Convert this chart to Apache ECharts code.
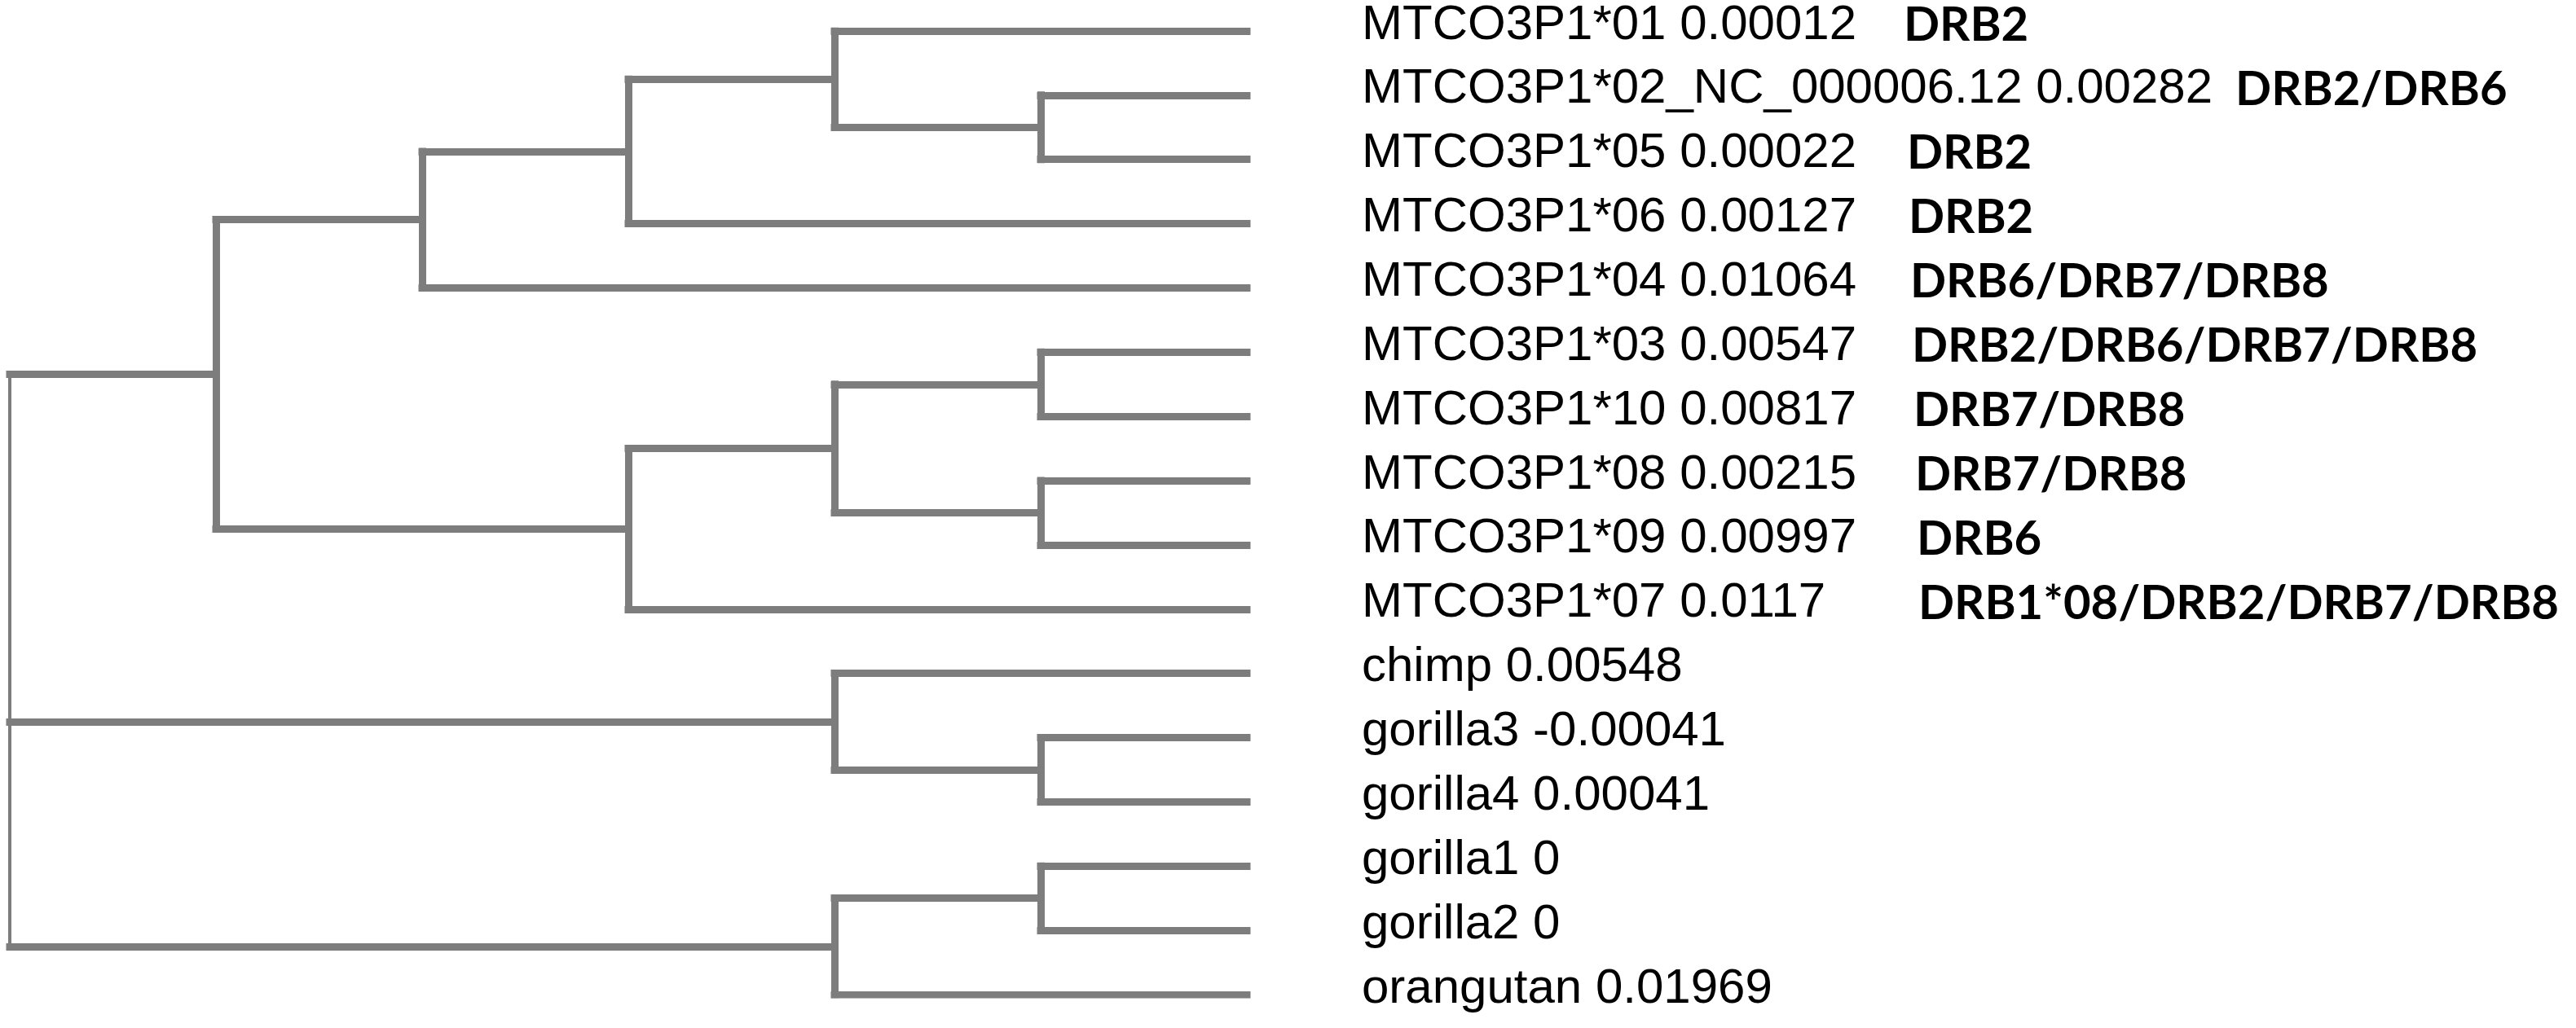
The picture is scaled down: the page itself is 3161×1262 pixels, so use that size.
<!DOCTYPE html>
<html>
<head>
<meta charset="utf-8">
<title>MTCO3P1 tree</title>
<style>
html, body { margin: 0; padding: 0; background: #fff; }
#main { width: 3161px; height: 1262px; }
</style>
</head>
<body>
<div id="main"></div>
<script src="https://cdn.jsdelivr.net/npm/echarts@6.0.0/dist/echarts.min.js"></script>
<script>
// leaves, top to bottom
var leafNames = ['MTCO3P1*01', 'MTCO3P1*02_NC_000006.12', 'MTCO3P1*05', 'MTCO3P1*06', 'MTCO3P1*04',
  'MTCO3P1*03', 'MTCO3P1*10', 'MTCO3P1*08', 'MTCO3P1*09', 'MTCO3P1*07',
  'chimp', 'gorilla3', 'gorilla4', 'gorilla1', 'gorilla2', 'orangutan'];
var leafValues = ['0.00012', '0.00282', '0.00022', '0.00127', '0.01064',
  '0.00547', '0.00817', '0.00215', '0.00997', '0.0117',
  '0.00548', '-0.00041', '0.00041', '0', '0', '0.01969'];
var drbLabels = ['DRB2', 'DRB2/DRB6', 'DRB2', 'DRB2', 'DRB6/DRB7/DRB8',
  'DRB2/DRB6/DRB7/DRB8', 'DRB7/DRB8', 'DRB7/DRB8', 'DRB6', 'DRB1*08/DRB2/DRB7/DRB8',
  '', '', '', '', '', ''];
// topology, nested lists of leaf indexes
var tree = [
  [[[[0, [1, 2]], 3], 4], [[[5, 6], [7, 8]], 9]],
  [10, [11, 12]],
  [[13, 14], 15]
];

function height(n) {
  return typeof n === 'number' ? 0 : 1 + Math.max.apply(null, n.map(height));
}
function posY(n) {
  return typeof n === 'number' ? n : (posY(n[0]) + posY(n[n.length - 1])) / 2;
}
var H = height(tree);
function posX(n) { return H - height(n); }

// cladogram: every leaf ends at the same depth
var branches = [], rootBranch = [];
function walk(n, isRoot) {
  if (typeof n === 'number') return;
  var x = posX(n);
  (isRoot ? rootBranch : branches).push({ coords: [[x, posY(n[0])], [x, posY(n[n.length - 1])]] });
  n.forEach(function (c) {
    branches.push({ coords: [[x, posY(c)], [posX(c), posY(c)]] });
    walk(c, false);
  });
}
walk(tree, true);

var ctx = document.createElement('canvas').getContext('2d');
ctx.font = '60px "Liberation Sans"';

var leafPoints = leafNames.map(function (nm, i) { return [H, i]; });

var myChart = echarts.init(document.getElementById('main'));
myChart.setOption({
  backgroundColor: '#fff',
  animation: false,
  grid: { left: 12, right: 1631, top: 38, bottom: 41, outerBoundsMode: 'none' },
  xAxis: { type: 'value', min: 0, max: H, show: false },
  yAxis: { type: 'value', min: 0, max: leafNames.length - 1, inverse: true, show: false },
  series: [
    {
      type: 'lines',
      coordinateSystem: 'cartesian2d',
      silent: true,
      lineStyle: { color: '#7d7d7d', width: 9, opacity: 1, cap: 'square' },
      data: branches
    },
    {
      type: 'lines',
      coordinateSystem: 'cartesian2d',
      silent: true,
      lineStyle: { color: '#7d7d7d', width: 4, opacity: 1 },
      data: rootBranch
    },
    {
      type: 'scatter',
      silent: true,
      symbolSize: 0,
      itemStyle: { opacity: 1 },
      data: leafPoints,
      label: {
        show: true,
        opacity: 1,
        position: 'right',
        distance: 141,
        offset: [0, -7],
        formatter: function (p) {
          var i = p.dataIndex;
          var txt = leafNames[i] + ' ' + leafValues[i];
          var drb = drbLabels[i];
          if (!drb) return '{n|' + txt + '}';
          var col = 665 + 2 * i;
          if (ctx.measureText(txt).width + 20 > col) {
            return '{n|' + txt + '}{g|' + drb + '}';
          }
          return '{c' + i + '|' + txt + '}{b|' + drb + '}';
        },
        rich: (function () {
          var r = {
            n: { fontFamily: 'Liberation Sans', fontSize: 60, color: '#000', lineHeight: 72 },
            b: { fontFamily: 'Lato', fontWeight: 'bold', fontSize: 58, color: '#000', lineHeight: 72 },
            g: { fontFamily: 'Lato', fontWeight: 'bold', fontSize: 58, color: '#000', lineHeight: 72, padding: [0, 0, 0, 28] }
          };
          for (var i = 0; i < leafNames.length; i++) {
            r['c' + i] = { fontFamily: 'Liberation Sans', fontSize: 60, color: '#000', lineHeight: 72, width: 665 + 2 * i };
          }
          return r;
        })()
      }
    }
  ]
});
</script>
</body>
</html>
